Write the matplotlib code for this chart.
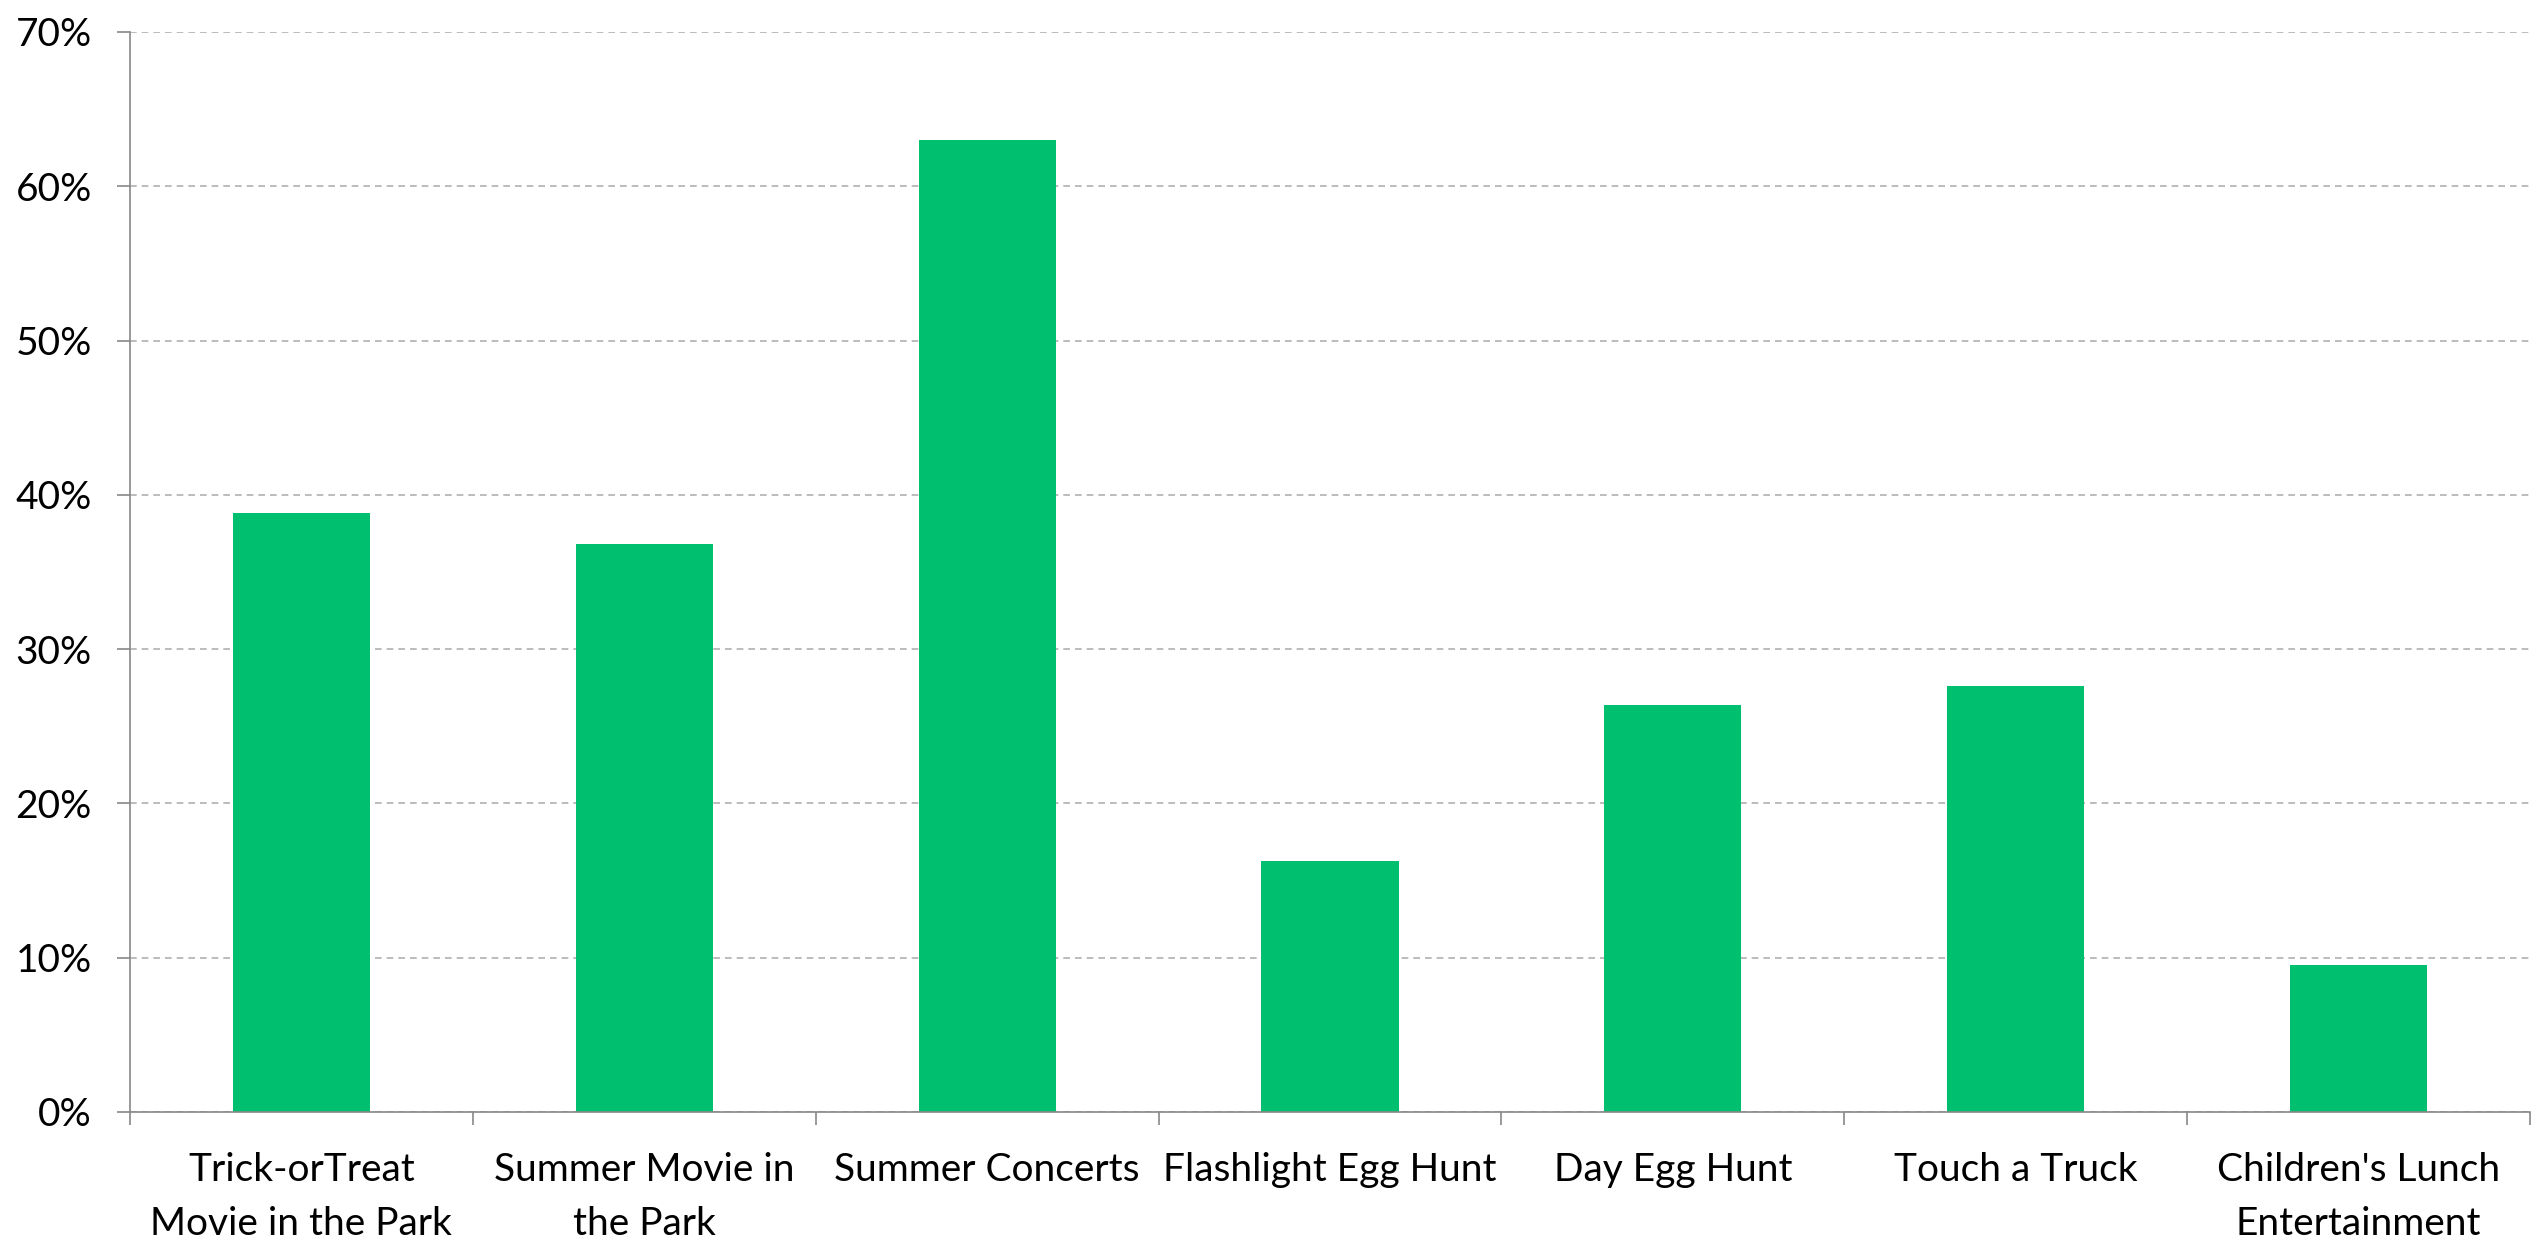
import matplotlib.pyplot as plt
from matplotlib.ticker import PercentFormatter
import numpy as np

# datos del grafico
eventos = ['Trick-orTreat\nMovie in the Park', 'Summer Movie in\nthe Park', 'Summer Concerts',
           'Flashlight Egg Hunt', 'Day Egg Hunt', 'Touch a Truck', "Children's Lunch\nEntertainment"]
porcentajes = [38.8, 36.8, 63.0, 16.3, 26.4, 27.6, 9.5]
ticks_y = [0, 10, 20, 30, 40, 50, 60, 70]

plt.rcParams['font.family'] = ['Lato', 'DejaVu Sans']

fig = plt.figure(figsize=(25.39, 12.38), dpi=100)
ax = fig.add_axes([130/2539, 1 - 1112/1238, 2400/2539, (1112 - 32)/1238])

x = np.arange(len(eventos))
ax.bar(x, porcentajes, width=0.4, color='#00BF6F', zorder=3)

ax.set_xlim(-0.5, len(eventos) - 0.5)
ax.set_ylim(0, 70)
ax.set_yticks(ticks_y)
ax.yaxis.set_major_formatter(PercentFormatter(decimals=0))
ax.tick_params(axis='y', length=9.5, width=1.2, color='#888888', labelsize=28, pad=18)

ax.set_xticks(x)
ax.set_xticklabels(eventos, fontsize=28, linespacing=1.6)
ax.set_xticks(np.arange(-0.5, len(eventos)), minor=True)
ax.tick_params(axis='x', which='major', length=0, pad=29)
ax.tick_params(axis='x', which='minor', length=9.5, width=1.2, color='#888888')

ax.grid(axis='y', linestyle=(0, (4, 3)), color='#b0b0b0', linewidth=1.2, zorder=0)

ax.spines['top'].set_visible(False)
ax.spines['right'].set_visible(False)
ax.spines['left'].set_color('#888888')
ax.spines['bottom'].set_color('#888888')
ax.spines['left'].set_linewidth(1.2)
ax.spines['bottom'].set_linewidth(1.2)
ax.spines['bottom'].set_zorder(4)

plt.savefig('out.png', dpi=100)
